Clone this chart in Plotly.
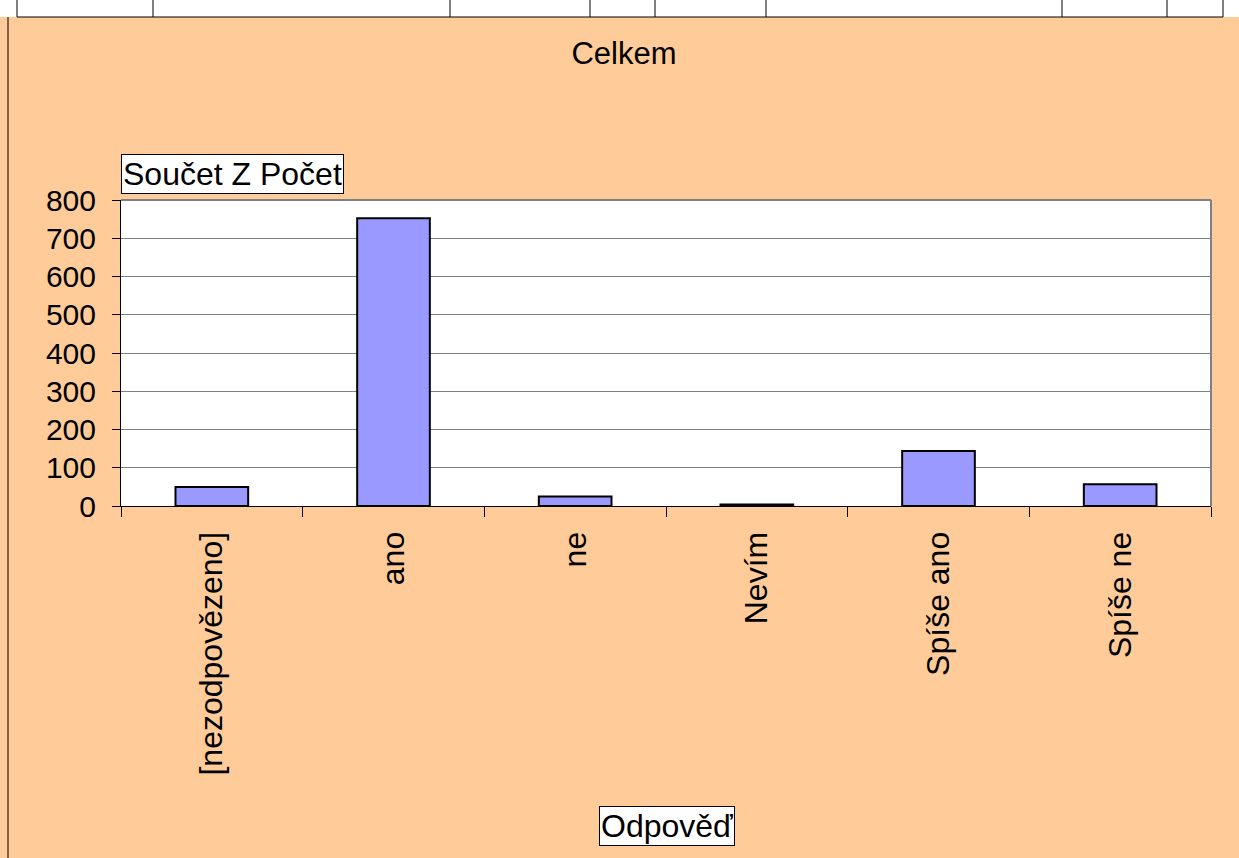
import plotly.graph_objects as go

categories = ["[nezodpovězeno]", "ano", "ne", "Nevím", "Spíše ano", "Spíše ne"]
values = [50, 752, 25, 4, 144, 57]
y_ticks = [0, 100, 200, 300, 400, 500, 600, 700, 800]
title_text = "Celkem"
y_title = "Součet Z Počet"
x_title = "Odpověď"
table_lines_x = [17, 153, 450, 590, 655, 766, 1062, 1167, 1223]

W, H = 1239, 858
L, R, T, B = 121, 28, 200, 352
FONT = "Liberation Sans, Arial, sans-serif"

fig = go.Figure(go.Bar(
    x=categories, y=values, width=0.4,
    marker=dict(color="#9999FF", line=dict(color="#000000", width=2)),
))

fig.update_layout(
    width=W, height=H,
    margin=dict(l=L, r=R, t=T, b=B, autoexpand=False),
    paper_bgcolor="#FFCC99", plot_bgcolor="#FFFFFF",
    font=dict(family=FONT, size=30, color="#000000"),
    showlegend=False,
    title=dict(text=title_text, x=624 / W, xanchor="center", xref="container",
               y=1 - 53 / H, yanchor="middle", yref="container",
               font=dict(family=FONT, size=31, color="#000000")),
)

fig.update_xaxes(
    type="category", tickson="boundaries", ticks="outside", ticklen=10,
    tickcolor="#000000", tickwidth=1, showline=True, linecolor="#000000",
    linewidth=1, tickangle=-90, showgrid=False, range=[-0.5, 5.5],
    ticklabelstandoff=12,
    tickfont=dict(family=FONT, size=32, color="#000000"),
)
fig.update_yaxes(
    range=[0, 800], tickvals=y_ticks, ticks="outside", ticklen=8,
    tickcolor="#000000", showline=True, linecolor="#000000", linewidth=1,
    showgrid=True, gridcolor="#808080", gridwidth=1, zeroline=False,
    ticklabelstandoff=10,
    tickfont=dict(family=FONT, size=30, color="#000000"),
)


def px_x(p):
    return (p - L) / (W - L - R)


def px_y(p):
    return (H - B - p) / (H - T - B)


shapes = []
# plot area right and top borders
shapes.append(dict(type="line", xref="paper", yref="paper", x0=1, x1=1, y0=0, y1=1,
                   line=dict(color="#808080", width=2)))
shapes.append(dict(type="line", xref="paper", yref="paper", x0=0, x1=1, y0=1, y1=1,
                   line=dict(color="#808080", width=2)))
# white strip of the cut-off table row at the top
shapes.append(dict(type="rect", xref="paper", yref="paper",
                   x0=px_x(-2), x1=px_x(W + 2), y0=px_y(-2), y1=px_y(17),
                   fillcolor="#FFFFFF", line=dict(width=0), layer="below"))
shapes.append(dict(type="line", xref="paper", yref="paper",
                   x0=px_x(17), x1=px_x(1223), y0=px_y(17), y1=px_y(17),
                   line=dict(color="#000000", width=1)))
for xv in table_lines_x:
    shapes.append(dict(type="line", xref="paper", yref="paper",
                       x0=px_x(xv), x1=px_x(xv), y0=px_y(-2), y1=px_y(17),
                       line=dict(color="#000000", width=1)))
# chart area left border
shapes.append(dict(type="line", xref="paper", yref="paper",
                   x0=px_x(8), x1=px_x(8), y0=px_y(17), y1=px_y(H + 5),
                   line=dict(color="#000000", width=1)))
fig.update_layout(shapes=shapes)

fig.add_annotation(text=y_title, xref="paper", yref="paper", x=0, y=px_y(174),
                   xanchor="left", yanchor="middle", showarrow=False,
                   bgcolor="#FFFFFF", bordercolor="#000000", borderwidth=1, borderpad=1,
                   font=dict(family=FONT, size=32, color="#000000"))
fig.add_annotation(text=x_title, xref="paper", yref="paper", x=px_x(667), y=px_y(826),
                   xanchor="center", yanchor="middle", showarrow=False,
                   bgcolor="#FFFFFF", bordercolor="#000000", borderwidth=1, borderpad=1,
                   font=dict(family=FONT, size=32, color="#000000"))

fig.write_html(
    "out.html",
    config={"displayModeBar": False},
    post_script="document.body.style.margin='0';document.body.style.overflow='hidden';",
)
